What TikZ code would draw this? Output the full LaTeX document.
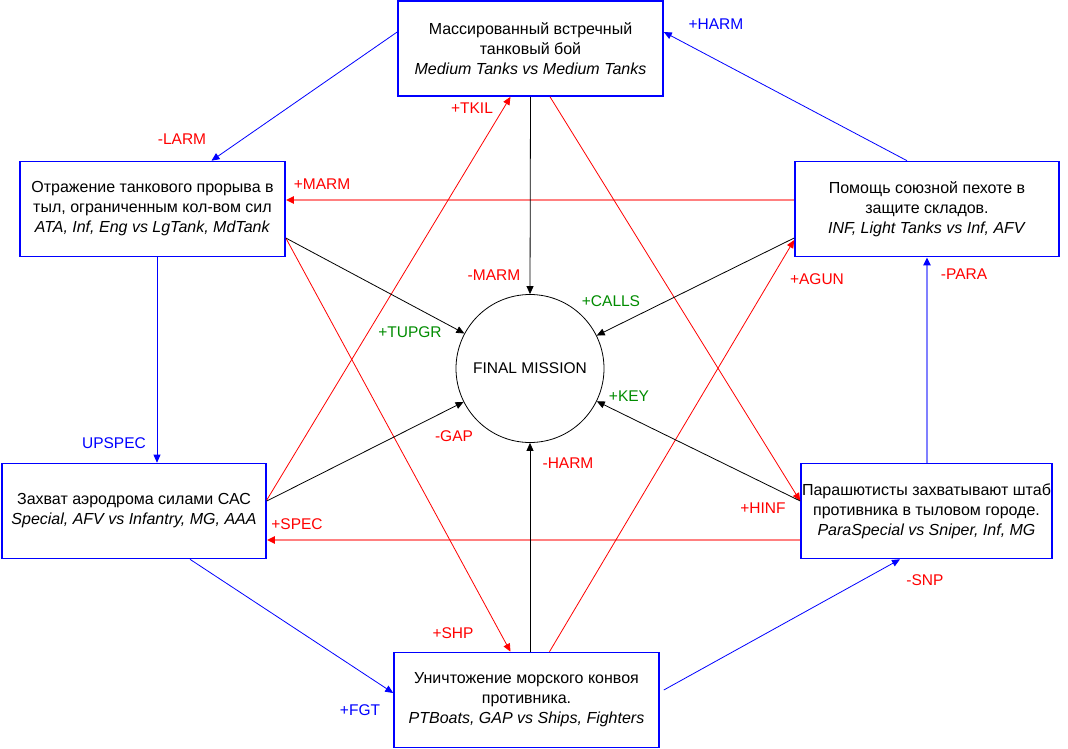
\documentclass[tikz,border=0pt]{standalone}
\usepackage{fontspec}
\setmainfont{Liberation Sans}
\usetikzlibrary{arrows.meta}

\definecolor{lblred}{RGB}{255,0,0}
\definecolor{lblgreen}{RGB}{0,140,0}
\definecolor{lblblue}{RGB}{0,0,255}

\begin{document}
\begin{tikzpicture}[x=1pt,y=-1pt,
	font=\fontsize{15.5}{20}\selectfont,
	task/.style={draw=blue,line width=1.6pt,fill=white,align=center,font=\fontsize{16}{20}\selectfont,minimum width=265pt,minimum height=95pt,inner sep=0pt},
	goal/.style={draw=black,circle,line width=0.8pt,minimum size=148pt,inner sep=0pt},
	bluelink/.style={blue,line width=0.8pt,-{Triangle[length=8pt,width=7pt]}},
	redlink/.style={red,line width=0.8pt,-{Triangle[length=8pt,width=7pt]}},
	blacklink/.style={black,line width=0.8pt,-{Triangle[length=8pt,width=7pt]}},
	softblue/.style={blue!50,line width=2pt,-{Triangle[length=8pt,width=7pt,color=blue]}},
	softred/.style={red!50,line width=2pt,-{Triangle[length=8pt,width=7pt,color=red]}}]
	 \useasboundingbox (0,0) rectangle (1068,749);
	 \fill[white] (0,0) rectangle (1068,749);%background

            \node[task] (tank) at (530.5,48.5) {Массированный встречный\\танковый бой\\\textit{Medium Tanks vs Medium Tanks}};
            \node[task] (breach) at (152.5,209) {Отражение танкового прорыва в\\тыл, ограниченным кол-вом сил\\\textit{ATA, Inf, Eng vs LgTank, MdTank}};
            \node[task,minimum width=264pt] (depot) at (927,209) {Помощь союзной пехоте в\\защите складов.\\\textit{INF, Light Tanks vs Inf, AFV}};
            \node[task,minimum width=264pt] (airfield) at (134,511) {Захват аэродрома силами САС\\\textit{Special, AFV vs Infantry, MG, AAA}};
            \node[task,minimum width=251pt] (hq) at (926.5,511) {Парашютисты захватывают штаб\\противника в тыловом городе.\\\textit{ParaSpecial vs Sniper, Inf, MG}};
            \node[task] (convoy) at (526.5,700) {Уничтожение морского конвоя\\противника.\\\textit{PTBoats, GAP vs Ships, Fighters}};
            \node[goal] (final) at (530,368.5) {FINAL MISSION};

            % around the ring
            \draw[bluelink] ([yshift=16.5pt]tank.west) -- ([xshift=59pt]breach.north);
            \draw[bluelink] ([xshift=-20pt]depot.north) -- ([yshift=16.5pt]tank.east);
            \draw[bluelink] ([xshift=4.5pt]breach.south) -- ([xshift=4.5pt]breach.south |- airfield.north);
            \draw[bluelink] ([xshift=56pt]airfield.south) -- ([yshift=7pt]convoy.west);
            \draw[bluelink] ([xshift=4pt,yshift=10pt]convoy.east) -- ([xshift=-26.5pt]hq.south);
            \draw[softblue] ([xshift=0.5pt]hq.north) -- ([xshift=0.5pt]hq.north |- depot.south);
            \draw[softred] ([yshift=9pt]depot.west) -- ([yshift=9pt]depot.west -| breach.east);
            \draw[softred] ([yshift=-29pt]hq.west) -- ([yshift=-29pt]hq.west -| airfield.east);

            % crossing
            \draw[redlink] ([yshift=11pt]airfield.east) -- ([xshift=-20pt]tank.south);
            \draw[redlink] ([xshift=19.5pt]tank.south) -- ([yshift=10pt]hq.west);
            \draw[redlink] ([yshift=-29pt]breach.east) -- ([xshift=-16pt]convoy.north);
            \draw[redlink] ([xshift=23pt]convoy.north) -- ([yshift=-31pt]depot.west);

            % into the final mission
            \draw[blacklink] (tank.south) -- (final.north);
            \draw[blacklink] ([xshift=3.5pt]convoy.north) -- (final.south);
            \draw[blacklink] ([yshift=-29pt]breach.east) -- (final);
            \draw[blacklink] ([yshift=10pt]airfield.east) -- (final);
            \draw[blacklink] ([yshift=-29pt]depot.west) -- (final);
            \draw[blacklink] ([yshift=10pt]hq.west) -- (final);

            \foreach \x/\y/\t [count=\i] in {182/139/-LARM,322/184/+MARM,472/108/+TKIL,494/275/-MARM,817/279/+AGUN,964/274/-PARA,454/436/-GAP,568/463/-HARM,763/508/+HINF,297/524/+SPEC,925/580/-SNP,453/633/+SHP}{
              \node[text=lblred] (red\i) at (\x,\y) {\t};
            }
            \foreach \x/\y/\t [count=\i] in {611/301/+CALLS,410/332/+TUPGR,629/396/+KEY}{
              \node[text=lblgreen] (green\i) at (\x,\y) {\t};
            }
            \foreach \x/\y/\t [count=\i] in {716/24/+HARM,114/443/UPSPEC,360/710/+FGT}{
              \node[text=lblblue] (blue\i) at (\x,\y) {\t};
            }
        \end{tikzpicture}
\end{document}
